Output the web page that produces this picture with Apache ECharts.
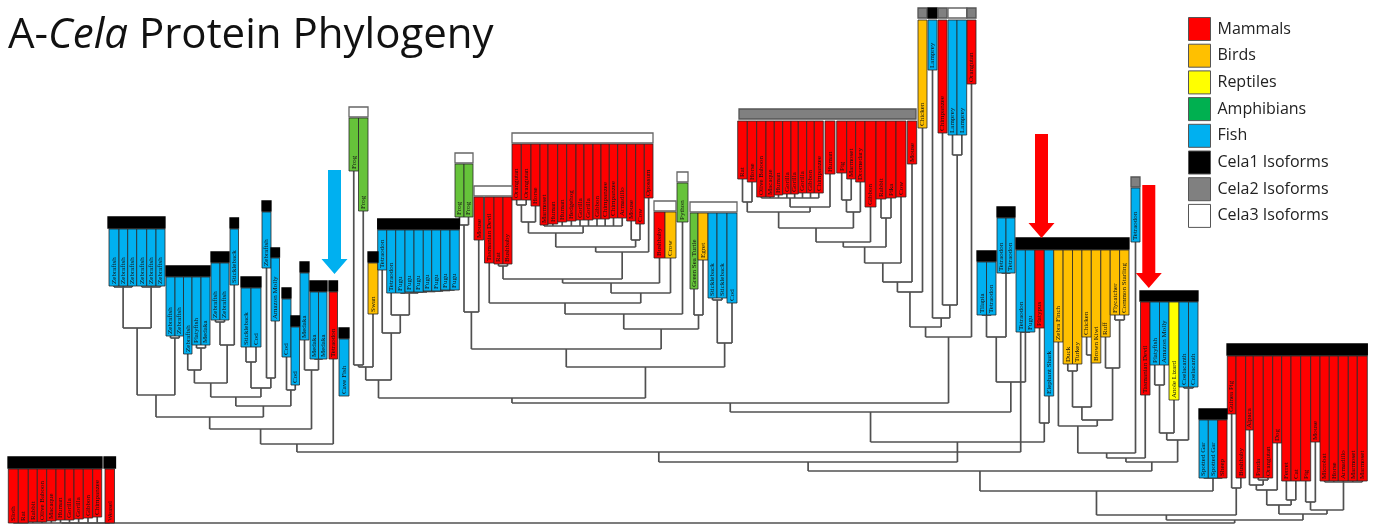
<!DOCTYPE html>
<html><head><meta charset="utf-8">
<script src="https://cdn.jsdelivr.net/npm/echarts@6/dist/echarts.min.js"></script>
<style>html,body{margin:0;padding:0;background:#fff}#c{width:1381px;height:525px}</style>
</head><body><div id="c"></div>
<script>
// ---------- DATA ----------
const legendNames = ['Mammals','Birds','Reptiles','Amphibians','Fish','Cela1 Isoforms','Cela2 Isoforms','Cela3 Isoforms'];
const legendKeys  = ['M','B','R','A','F','1','2','3'];

// leaves: [id, xStart, xEnd, top, bottom(branch tip), class, species]
const leaves = [
['bl1',8.3,18.3,469,523,'M','Sloth'],['bl2',18.3,28.3,469,523,'M','Rat'],['bl3',28.3,37.3,469,522,'M','Rabbit'],
['bl4',37.3,46.7,469,522,'M','Olive Baboon'],['bl5',46.7,56,469,521,'M','Macaque'],['bl6',56,65,469,520,'M','Human'],
['bl7',65,74,469,520,'M','Gorilla'],['bl8',74,83.3,469,519,'M','Gorilla'],['bl9',83.3,92.7,469,518,'M','Gibbon'],
['bl10',92.7,101.7,469,517,'M','Chimpanzee'],['bl11',105,114.5,469,523,'M','Weasel'],
['a1',109,119,229,286,'F','Zebrafish'],['a2',119,127.7,229,286,'F','Zebrafish'],['a3',127.7,136.7,229,286,'F','Zebrafish'],
['a4',136.7,146.7,229,286,'F','Zebrafish'],['a5',146.7,156,229,286,'F','Zebrafish'],['a6',156,165,229,286,'F','Zebrafish'],
['b1',166,175,277,336,'F','Zebrafish'],['b2',175,183.5,277,336,'F','Zebrafish'],['b3',183.5,192,277,354,'F','Zebrafish'],
['b4',192,201,277,345,'F','Platyfish'],['b5',201,210,277,345,'F','Medaka'],
['c1',211,220,263,320,'F','Zebrafish'],['c2',220,229,263,320,'F','Zebrafish'],
['d1',230,238.5,229,285,'F','Stickleback'],
['e1',241,251,288,347,'F','Stickleback'],['e2',251,261,288,347,'F','Cod'],
['f1',262,271,212,268,'F','Zebrafish'],['g1',271,279.5,258,321,'F','Amazon Molly'],
['h1',282,291,299,357,'F','Cod'],['h2',291,299.5,327,385,'F','Cod'],
['i1',300,309,273,340,'F','Medaka'],['i2',310,318.5,292,359,'F','Medaka'],['i3',318.5,327,292,359,'F','Medaka'],
['j1',329,337.5,292,359,'M','Tetraodon'],['k1',339,349,339,396,'F','Cave Fish'],
['fr1',349,358.5,118,171,'A','Frog'],['fr2',358.5,368,118,211,'A','Frog'],
['sw',368,378,263,314,'B','Swan'],
['tt1',377.7,386.7,230,270,'F','Tetraodon'],['tt2',386.7,395.7,230,293,'F','Tetraodon'],
['fg1',395.7,405,230,293,'F','Fugu'],['fg2',405,414,230,292,'F','Fugu'],['fg3',414,423.3,230,292,'F','Fugu'],
['fg4',423.3,431.7,230,291,'F','Fugu'],['fg5',431.7,440.7,230,291,'F','Fugu'],['fg6',440.7,450,230,290,'F','Fugu'],
['fg7',450,459.3,230,290,'F','Fugu'],
['fr3',455,464,164,217,'A','Frog'],['fr4',464,473,164,217,'A','Frog'],
['ms1',474,483.5,197,240,'M','Mouse'],['td1',484.5,494,197,263,'M','Tasmanian Devil'],
['rt1',494,503,197,264,'M','Rat'],['bb1',503,512,197,264,'M','Bushbaby'],
['w1',512,521.3,144,200,'M','Orangutan'],['w2',521.3,531,144,200,'M','Orangutan'],['w3',531,540,144,206,'M','Horse'],
['w4',540,548,144,225,'M','Marmoset'],['w5',548,557.7,144,224,'M','Human'],['w6',557.7,566.7,144,222,'M','Human'],
['w7',566.7,576,144,221,'M','Hedgehog'],['w8',576,584,144,220,'M','Gorilla'],['w9',584,593,144,220,'M','Gorilla'],
['w10',593,601,144,219,'M','Gibbon'],['w11',601,609.3,144,219,'M','Chimpanzee'],['w12',609.3,617.7,144,218,'M','Chimpanzee'],
['w13',617.7,626.7,144,218,'M','Armadillo'],['w14',626.7,635.7,144,221,'M','Mouse'],['w15',635.7,644.3,144,224,'M','Cow'],
['w16',644.3,653,144,198,'M','Opossum'],
['bb2',654,665,212,258,'M','Bushbaby'],['cr',665,676,212,258,'B','Crow'],
['py',677,688,183,222,'A','Python'],
['gst',690,698,213,289,'A','Green Sea Turtle'],['eg',698,708,213,260,'B','Egret'],
['sb1',708,717,213,298,'F','Stickleback'],['sb2',717,727,213,298,'F','Stickleback'],['cd3',727,737,213,303,'F','Cod'],
['q1',737.7,747.3,121,179,'M','Rat'],['q2',747.3,756.7,121,182,'M','Horse'],['q3',756.7,766,121,197,'M','Olive Baboon'],
['q4',766,774.3,121,197,'M','Macaque'],['q5',774.3,782.7,121,195,'M','Human'],['q6',782.7,791,121,194,'M','Gorilla'],
['q7',791,798.3,121,194,'M','Gorilla'],['q8',798.3,806.7,121,193,'M','Gorilla'],['q9',806.7,814.3,121,193,'M','Gibbon'],
['q10',814.3,823.3,121,193,'M','Chimpanzee'],['q11',825,835,121,174,'M','Human'],['q12',836.7,846.7,121,173,'M','Pig'],
['q13',846.7,855.7,121,179,'M','Marmoset'],['q14',855.7,865,121,182,'M','Dromedary'],['q15',865,876,121,207,'M','Gibbon'],
['q16',876,886,121,199,'M','Rabbit'],['q17',886,896,121,198,'M','Pika'],['q18',896,906,121,197,'M','Cow'],
['q19',907.3,916.7,121,164,'M','Mouse'],
['ch1',918,927,20,128,'B','Chicken'],['lm1',928,937,20,70,'F','Lamprey'],['cz',938,947,20,133,'M','Chimpanzee'],
['lm2',948,957,20,135,'F','Lamprey'],['lm3',957,966.7,20,135,'F','Lamprey'],['ou',967,976,20,84,'M','Orangutan'],
['tl',977,986.5,262,315,'F','Tilapia'],['tn1',986.5,996,262,315,'F','Tetraodon'],
['tn2',997,1006,218,273,'F','Tetraodon'],['tn3',1006,1015,218,273,'F','Tetraodon'],
['k1',1016,1025.4,250,332,'F','Tetraodon'],['k2',1025.4,1034.8,250,332,'F','Fugu'],['k3',1034.8,1044.3,250,328,'M','Platypus'],
['k4',1044.3,1053.7,250,396,'F','Elephant Shark'],['k5',1053.7,1063.1,250,342,'B','Zebra Finch'],['k6',1063.1,1072.5,250,364,'B','Duck'],
['k7',1072.5,1081.9,250,364,'B','Turkey'],['k8',1081.9,1091.3,250,337,'B','Chicken'],['k9',1091.3,1100.8,250,363,'B','Brown Kiwi'],
['k10',1100.8,1110.2,250,337,'B','Ruff'],['k11',1110.2,1119.6,250,315,'B','Flycatcher'],['k12',1119.6,1129,250,315,'B','Common Starling'],
['tn4',1131,1140,188,242,'F','Tetraodon'],
['td2',1140.5,1150,302,395,'M','Tasmanian Devil'],['pf',1150,1159.5,302,365,'F','Platyfish'],['am',1159.5,1169,302,365,'F','Amazon Molly'],
['al',1169,1179,302,400,'R','Anole Lizard'],['co1',1179,1188.5,302,387,'F','Coelacanth'],['co2',1188.5,1198,302,387,'F','Coelacanth'],
['sg1',1199,1208.3,420,478,'F','Spotted Gar'],['sg2',1208.3,1217.7,420,478,'F','Spotted Gar'],['sh',1217.7,1227,420,478,'M','Sheep'],
['p1',1227.3,1236,356,414,'M','Guinea Pig'],['p2',1236,1245.7,356,478,'M','Bushbaby'],['p3',1245.7,1253.3,356,430,'M','Alpaca'],
['p4',1253.3,1263.3,356,478,'M','Panda'],['p5',1263.3,1272.7,356,478,'M','Orangutan'],['p6',1272.7,1281.7,356,443,'M','Dog'],
['p7',1281.7,1291,356,481,'M','Ferret'],['p8',1291,1300.7,356,481,'M','Cat'],['p9',1300.7,1310.7,356,481,'M','Pig'],
['p10',1310.7,1320,356,442,'M','Mouse'],['p11',1320,1329.3,356,481,'M','Microbat'],['p12',1329.3,1338.3,356,481,'M','Horse'],
['p13',1338.3,1348.3,356,481,'M','Armadillo'],['p14',1348.3,1357.3,356,481,'M','Marmoset'],['p15',1357.3,1367.3,356,481,'M','Marmoset']
];

// isoform caps: [xStart, xEnd, top, bottom, isoform]
const caps = [
[8,102,457,468,1],[104,115.5,457,468,1],
[108,165,217,228,1],[166,210,266,276,1],[211,229,252,262,1],[230,238.5,218,228,1],[241,261,277,287,1],
[262,271,201,211,1],[271,279.5,248,257,1],[282,291,288,298,1],[291,299.5,316,326,1],[300,309,262,272,1],
[310,327,281,291,1],[329,337.5,281,291,1],[339,349,328,338,1],
[349,368,107,117,3],[368,378,252,262,1],[377.7,459.3,219,229,1],
[455,473,153,163,3],[474,512,186,196,3],[512,653,133,143,3],[654,676,201,211,3],[677,688,172,182,3],[690,737,202,212,3],
[739,916,109,119,2],[918,927,8,18,2],[928,937,8,18,1],[938,947,8,18,2],[948,966.7,8,18,3],[967,976,8,18,2],
[977,996,251,261,1],[997,1015,207,217,1],[1016,1129,238,249,1],[1131,1140,177,187,2],[1140,1198,291,301,1],
[1199,1227,409,419,1],[1227,1367.3,344,355,1]
];

// internal nodes: [id, branch height, children]
const nodes = [
['BLn',523,['bl1','bl2','bl3','bl4','bl5','bl6','bl7','bl8','bl9','bl10','bl11']],
['s1',287,['a1','a2','a3']],['s2',287,['a4','a5','a6']],['s3',328,['s1','s2']],['s4',338,['b1','b2']],['s5',395,['s3','s4']],
['t0',348,['b4','b5']],['t1',370,['b3','t0']],['t2',322,['c1','c2']],['t2b',345,['t2','d1']],['t3',383,['t1','t2b']],
['u1',362,['e1','e2']],['u2',378,['f1','g1']],['u3',388,['u1','u2']],['B1',397,['t3','u3']],['B2',390,['h1','h2']],
['N406',406,['B1','B2']],['N417',417,['s5','N406']],['i23',359,['i2','i3']],['N370',370,['i1','i23']],
['N429',429,['N417','N370']],['N444',444,['N429','j1']],['S1',452,['N444','k1']],
['frA',365,['fr1','fr2']],['v1',367,['frA','sw']],
['qf1',290,['fg6','fg7']],['qf2',290.5,['fg5','qf1']],['qf3',291,['fg4','qf2']],['qf4',291.5,['fg3','qf3']],
['qf5',292,['fg2','qf4']],['qf6',293,['fg1','qf5']],['fu',315,['tt2','qf6']],['v2',333,['tt1','fu']],['v3',380,['v1','v2']],
['frB',225,['fr3','fr4']],['fm',312,['frB','ms1']],['rb',266,['rt1','bb1']],['m1',205,['w1','w2']],['m2',222,['m1','w3']],
['mp',226,['w4','w5','w6','w7','w8','w9','w10','w11','w12','w13']],['m3',233,['m2','mp']],['mc',240,['w14','w15']],
['m4',247,['m3','mc']],['m5',252,['m4','w16']],['n279',279,['rb','m5']],['n283',283,['n279','bb2']],['n293',293,['n283','cr']],
['n303',303,['td1','n293']],['n314',314,['n303','py']],['gse',315,['gst','eg']],['n329',329,['n314','gse']],
['A3',349,['fm','n329']],['sc',300,['sb1','sb2']],['B3',343,['sc','cd3']],['S3',367,['A3','B3']],
['N398',398,['v3','S3']],
['rh',202,['q1','q2']],['pr',198,['q3','q4','q5','q6','q7','q8','q9','q10']],['ph',207,['pr','q11']],['n212',212,['rh','ph']],
['pm',200,['q12','q13']],['pmd',212,['pm','q14']],['n228',228,['n212','pmd']],['n242',242,['n228','q15']],
['rp',218,['q16','q17']],['n247',247,['n242','rp']],['n263',263,['n247','q18']],['n282',282,['n263','q19']],
['n292',292,['n282','ch1']],['lp',155,['lm2','lm3']],['cl',305,['cz','lp']],['lcl',318,['lm1','cl']],
['n327',327,['n292','lcl']],['S4',337,['n327','ou']],['N403',403,['N398','S4']],
['tt',315,['tl','tn1']],['t2x',273,['tn2','tn3']],['n337b',337,['tt','t2x']],['tf',332,['k1','k2']],['Y5',382,['n337b','tf']],
['N412',412,['N403','Y5']],['X5',423,['k3','k4']],['N442',442,['N412','X5']],['N462',462,['S1','N442']],
['bd1',371,['k6','k7']],['bd2',355,['k8','k9']],['bd3',407,['bd1','bd2']],['fs',320,['k11','k12']],['bd4',368,['k10','fs']],
['bd5',420,['bd3','bd4']],['bd6',426,['k5','bd5']],['n453',453,['bd6','tn4']],['n458',458,['n453','td2']],
['pmo',385,['pf','am']],['pa',433,['pmo','al']],['cc',388,['co1','co2']],['n440',440,['pa','cc']],['W',462,['n458','n440']],
['N471',471,['N462','W']],['sgn',478,['sg1','sg2','sh']],['N491',491,['N471','sgn']],['gb',488,['p1','p2']],
['N515',515,['N491','gb']],
['r1',480,['p4','p5']],['r2',485,['p3','r1']],['r3',490,['r2','p6']],['r4',500,['p7','p8']],['r5',505,['r3','r4']],
['r6',502,['p9','p10']],['r7',482,['p11','p12','p13','p14','p15']],['r8',510,['r6','r7']],['r9',514,['r5','r8']],
['N520',520,['N515','r9']],['root',523,['BLn','N520']]
];

// highlighted arrows: [x, top, tip, class]
const arrows = [[334.5,170,274,'F'],[1041.5,134,238,'M'],[1148.8,185,288,'M']];

// ---------- STYLE ----------
const leafColor = {M:'#ff0000',B:'#ffc000',R:'#ffff00',A:'#66c33a',F:'#00b0f0'};
const legendColor = {M:'#ff0000',B:'#ffc000',R:'#ffff00',A:'#00b050',F:'#00b0f0','1':'#000000','2':'#808080','3':'#ffffff'};
const capFill = {1:'#000000',2:'#808080',3:'#ffffff'};
const capStroke = {1:'#000000',2:'#555555',3:'#666666'};

// ---------- TREE GEOMETRY ----------
const leafIdx = {}; leaves.forEach((l,i)=>leafIdx[l[0]]=i);
const nodeMap = {}; nodes.forEach(n=>nodeMap[n[0]]=n);
function pos(id){
  if (leafIdx[id]!==undefined){const l=leaves[leafIdx[id]];return [(l[1]+l[2])/2,l[4]];}
  const n=nodeMap[id]; const cs=n[2].map(pos);
  return [(cs[0][0]+cs[cs.length-1][0])/2,n[1]];
}
const segments=[];
nodes.forEach(n=>{
  const cs=n[2].map(pos);
  segments.push([cs[0][0],n[1],cs[cs.length-1][0],n[1]]);
  cs.forEach(c=>{ if(c[1]<n[1]) segments.push([c[0],c[1],c[0],n[1]]); });
});

const chart = echarts.init(document.getElementById('c'));
const legendSeries = legendNames.map((nm,i)=>({
  type:'custom', name:nm, coordinateSystem:'cartesian2d', data:[], renderItem:()=>null,
  itemStyle:{color:legendColor[legendKeys[i]]}
}));

chart.setOption({
  animation:false,
  title:{
    text:'{n|A-}{i|Cela}{n| Protein Phylogeny}', left:8, top:12, padding:0,
    textStyle:{fontWeight:'normal',rich:{
      n:{fontSize:42,fontFamily:'Open Sans',fontWeight:'normal',color:'#111',lineHeight:48},
      i:{fontSize:42,fontFamily:'Open Sans',fontWeight:'normal',fontStyle:'italic',color:'#111',lineHeight:48}
    }}
  },
  legend:{
    orient:'vertical', left:1188, top:13, padding:[4,5,5,0], itemWidth:22, itemHeight:23, itemGap:2.7, icon:'rect',
    selectedMode:false, data:legendNames,
    itemStyle:{borderColor:'#555',borderWidth:1},
    textStyle:{fontSize:16,fontFamily:'Open Sans',color:'#222',padding:[0,0,0,2]}
  },
  grid:{left:0,right:0,top:0,bottom:0},
  xAxis:{type:'value',min:0,max:1381,show:false},
  yAxis:{type:'value',min:0,max:525,inverse:true,show:false},
  series:[
    {type:'custom',silent:true,clip:false,data:segments,encode:{x:[0,2],y:[1,3]},
     renderItem:(p,api)=>{
       const a=api.coord([api.value(0),api.value(1)]), b=api.coord([api.value(2),api.value(3)]);
       return {type:'line',shape:{x1:a[0],y1:a[1],x2:b[0],y2:b[1]},style:{stroke:'#505050',lineWidth:1.7}};
     }},
    {type:'custom',silent:true,clip:false,data:leaves.map(l=>[l[1],l[3],l[2],l[4]]),encode:{x:[0,2],y:[1,3]},
     renderItem:(p,api)=>{
       const l=leaves[p.dataIndex];
       const a=api.coord([api.value(0),api.value(1)]), b=api.coord([api.value(2),api.value(3)]);
       return {type:'group',children:[
         {type:'rect',shape:{x:a[0],y:a[1],width:b[0]-a[0],height:b[1]-a[1]},
          style:{fill:leafColor[l[5]],stroke:'#2a2a2a',lineWidth:0.8}},
         {type:'text',x:(a[0]+b[0])/2,y:b[1]-2,rotation:Math.PI/2,
          style:{text:l[6],fontSize:7,fontFamily:'Liberation Serif',fill:'#111',align:'left',verticalAlign:'middle'}}
       ]};
     }},
    {type:'custom',silent:true,clip:false,data:caps.map(c=>[c[0],c[2],c[1],c[3]]),encode:{x:[0,2],y:[1,3]},
     renderItem:(p,api)=>{
       const c=caps[p.dataIndex];
       const a=api.coord([api.value(0),api.value(1)]), b=api.coord([api.value(2),api.value(3)]);
       return {type:'rect',shape:{x:a[0],y:a[1],width:b[0]-a[0],height:b[1]-a[1]},
         style:{fill:capFill[c[4]],stroke:capStroke[c[4]],lineWidth:1.3}};
     }},
    {type:'custom',silent:true,clip:false,data:arrows.map(r=>[r[0],r[1],r[2]]),encode:{x:0,y:[1,2]},
     renderItem:(p,api)=>{
       const r=arrows[p.dataIndex];
       const t=api.coord([api.value(0),api.value(1)]), e=api.coord([api.value(0),api.value(2)]);
       const x=t[0], sw=6.5, hw=13, hl=15;
       return {type:'polygon',shape:{points:[[x-sw,t[1]],[x+sw,t[1]],[x+sw,e[1]-hl],[x+hw,e[1]-hl],[x,e[1]],[x-hw,e[1]-hl],[x-sw,e[1]-hl]]},
         style:{fill:leafColor[r[3]]}};
     }}
  ].concat(legendSeries)
});
</script>
</body></html>
